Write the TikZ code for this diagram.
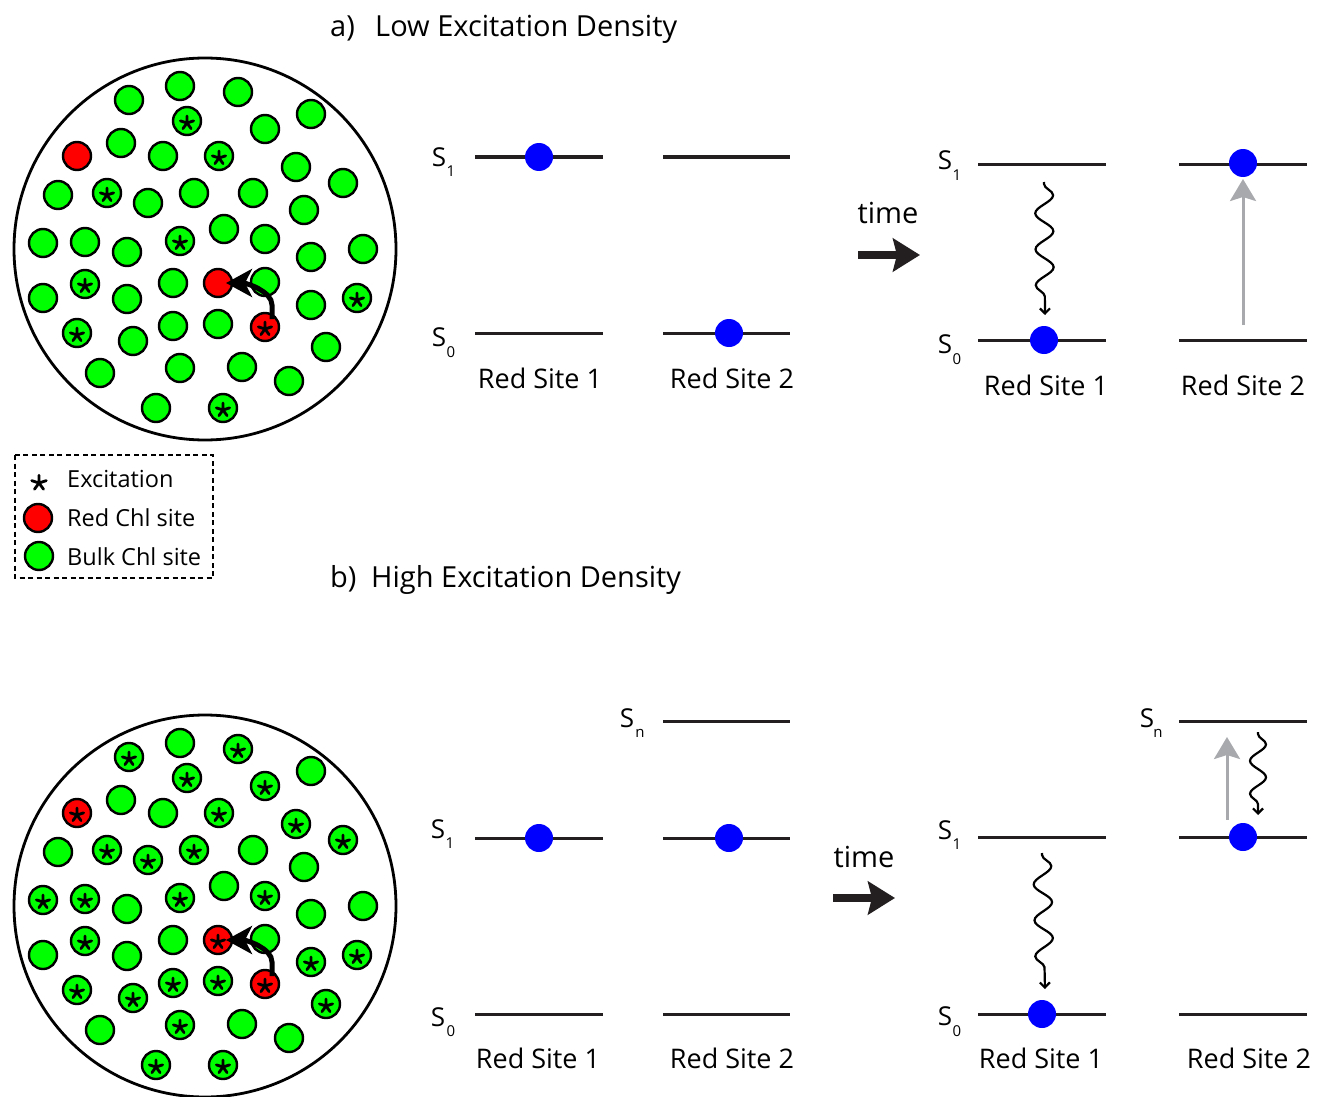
\documentclass[tikz,border=0pt]{standalone}
\usepackage{fontspec}
\setmainfont{Open Sans}
\usetikzlibrary{arrows.meta,decorations.pathmorphing,calc}
\definecolor{ink}{HTML}{231F20}
\definecolor{chlgreen}{HTML}{00FF00}
\definecolor{chlred}{HTML}{FF0000}
\definecolor{dotblue}{HTML}{0000FF}
\definecolor{arrowgray}{HTML}{A7A9AC}
\tikzset{
  bulk/.style={circle,draw=black,line width=2.4pt,fill=chlgreen,minimum size=28pt,inner sep=0pt},
  redchl/.style={bulk,fill=chlred},
  disk/.style={circle,draw=black,line width=2.8pt,minimum size=382pt,inner sep=0pt},
  ast/.pic={\draw[line width=2.8pt,line cap=round] foreach \ang in {90,18,162,234,306}{(0,0) -- (\ang:7pt)};},
  level/.style={draw=ink,line width=3pt},
  edot/.style={circle,fill=dotblue,minimum size=28pt,inner sep=0pt},
  hop/.style={draw=black,line width=5pt,-{Stealth[length=26pt,width=28pt,inset=7pt]}},
  timearrow/.style={draw=ink,line width=8pt,-{Stealth[length=27pt,width=33pt,inset=4pt]}},
  grayarrow/.style={draw=arrowgray,line width=3pt,-{Stealth[length=22pt,width=26pt,inset=4pt]}},
  wave/.style={draw=black,line width=2.2pt,decorate,decoration={snake,segment length=36pt,amplitude=9pt,pre length=2pt,post length=7pt},-{Straight Barb[length=5pt,width=10pt]}},
  lbl/.style={font=\fontsize{27}{32}\selectfont,inner sep=0pt,anchor=base},
  ttl/.style={font=\fontsize{29}{34}\selectfont,inner sep=0pt,anchor=base west},
  leg/.style={font=\fontsize{23.5}{28}\selectfont,inner sep=0pt,anchor=base west},
  slab/.style={font=\fontsize{26}{30}\selectfont,inner sep=0pt},
  ssub/.style={font=\fontsize{15}{18}\selectfont,inner sep=0pt},
}
\def\sites{1/129/100/bulk,2/180/86/bulk,3/238/92/bulk,4/187/121/bulk,5/311/114/bulk,6/265/129/bulk,
7/121/143/bulk,8/77/156/redchl,9/163/156/bulk,10/219/156/bulk,11/296/167/bulk,12/343/183/bulk,
13/58/195/bulk,14/107/193/bulk,15/148/203/bulk,16/194/193/bulk,17/253/193/bulk,18/304/210/bulk,
19/43/243/bulk,20/85/242/bulk,21/127/252/bulk,22/180/241/bulk,23/224/229/bulk,24/265/239/bulk,
25/311/257/bulk,26/363/249/bulk,27/43/298/bulk,28/85/284/bulk,29/127/299/bulk,30/173/283/bulk,
31/218/283/redchl,32/265/282/bulk,33/311/305/bulk,34/357/298/bulk,35/77/333/bulk,36/133/341/bulk,
37/173/326/bulk,38/218/324/bulk,39/265/327/redchl,40/326/347/bulk,41/100/373/bulk,42/180/368/bulk,
43/242/367/bulk,44/289/381/bulk,45/156/408/bulk,46/223/408/bulk}
\begin{document}
\begin{tikzpicture}[x=1pt,y=-1pt]
\useasboundingbox (0,0) rectangle (1317,1097);

% ---------------- titles
\node[ttl] (ta) at (330,37) {a)};
\node[ttl] (tatext) at (375,37) {Low Excitation Density};
\node[ttl] (tb) at (330,587) {b)};
\node[ttl] (tbtext) at (371,587) {High Excitation Density};

% ---------------- panel a disk
\node[disk] (diskA) at (205,249) {};
\foreach \n/\x/\y/\s in \sites {\node[\s] (a\n) at (\x,\y) {};}
\foreach \n in {4,10,14,22,28,34,35,39,46} {\pic at ([yshift=-2pt]a\n.center) {ast};}
\draw[hop] ([shift={(7,-8)}]a39.center) -- ++(0,-14) .. controls +(0,-14) and +(20,0) .. ([xshift=8pt]a31.center);

% ---------------- panel b disk
\node[disk] (diskB) at (205,906) {};
\begin{scope}[yshift=-657pt]
\foreach \n/\x/\y/\s in \sites {\node[\s] (b\n) at (\x,\y) {};}
\end{scope}
\foreach \n in {1,3,4,6,8,10,11,12,14,15,16,19,20,22,24,28,31,33,34,35,36,37,38,39,40,42,45,46} {\pic at ([yshift=-2pt]b\n.center) {ast};}
\draw[hop] ([shift={(7,-8)}]b39.center) -- ++(0,-14) .. controls +(0,-14) and +(20,0) .. ([xshift=8pt]b31.center);

% ---------------- legend
\draw[line width=2.4pt,dash pattern=on 5pt off 3.5pt] (15,455) rectangle (213,578);
\pic[scale=1.1] at (39,483) {ast};
\node[redchl] (legred) at (38,518) {};
\node[bulk] (leggreen) at (39,556) {};
\node[leg] (legexc) at (67,487) {Excitation};
\node[leg] (legredtxt) at (67,526) {Red Chl site};
\node[leg] (leggreentxt) at (67,565) {Bulk Chl site};

% ---------------- panel a, before
\draw[level] (475,157) -- (603,157);
\draw[level] (663,157) -- (790,157);
\draw[level] (475,333) -- (603,333);
\draw[level] (663,333) -- (790,333);
\node[edot] (ea1) at (539,157) {};
\node[edot] (ea2) at (729,333) {};
\node[slab] (aS1) at (439,157) {S};
\node[ssub] (aS1s) at (451,171) {1};
\node[slab] (aS0) at (439,337) {S};
\node[ssub] (aS0s) at (451,352) {0};
\node[lbl] (aRS1) at (540,388) {Red Site 1};
\node[lbl] (aRS2) at (732,388) {Red Site 2};

% time arrow a
\node[font=\fontsize{29}{34}\selectfont,inner sep=0pt,anchor=base] (timeA) at (888,223) {time};
\coordinate (tA1) at (858,255);
\coordinate (tA2) at (920,255);
\draw[timearrow] (tA1) -- (tA2);

% ---------------- panel a, after
\draw[level] (978,164) -- (1106,164);
\draw[level] (1179,164) -- (1307,164);
\draw[level] (978,340) -- (1106,340);
\draw[level] (1179,340) -- (1307,340);
\node[edot] (ea3) at (1044,340) {};
\node[edot] (ea4) at (1243,163) {};
\node[slab] (aS1r) at (945,160) {S};
\node[ssub] (aS1rs) at (957,175) {1};
\node[slab] (aS0r) at (945,344) {S};
\node[ssub] (aS0rs) at (957,359) {0};
\node[lbl] (aRS1r) at (1046,395) {Red Site 1};
\node[lbl] (aRS2r) at (1243,395) {Red Site 2};
\coordinate (wA1) at (1044,182);
\coordinate (wA2) at (1045,315);
\draw[wave] (wA1) -- (wA2);
\coordinate (gA1) at (1243,325);
\draw[grayarrow] (gA1) -- ([yshift=-16pt]ea4.center);

% ---------------- panel b, before
\draw[level] (663,721) -- (790,721);
\draw[level] (475,838) -- (603,838);
\draw[level] (663,838) -- (790,838);
\draw[level] (475,1014) -- (603,1014);
\draw[level] (663,1014) -- (790,1014);
\node[edot] (eb1) at (539,838) {};
\node[edot] (eb2) at (729,838) {};
\node[slab] (bSn) at (627,718) {S};
\node[ssub] (bSns) at (640,733) {n};
\node[slab] (bS1) at (438,829) {S};
\node[ssub] (bS1s) at (450,843) {1};
\node[slab] (bS0) at (438,1017) {S};
\node[ssub] (bS0s) at (451,1031) {0};
\node[lbl] (bRS1) at (538,1068) {Red Site 1};
\node[lbl] (bRS2) at (732,1068) {Red Site 2};

% time arrow b
\node[font=\fontsize{29}{34}\selectfont,inner sep=0pt,anchor=base] (timeB) at (864,867) {time};
\coordinate (tB1) at (833,898);
\coordinate (tB2) at (895,898);
\draw[timearrow] (tB1) -- (tB2);

% ---------------- panel b, after
\draw[level] (1179,721) -- (1307,721);
\draw[level] (978,837) -- (1106,837);
\draw[level] (1179,837) -- (1307,837);
\draw[level] (978,1014) -- (1106,1014);
\draw[level] (1179,1014) -- (1307,1014);
\node[edot] (eb3) at (1042,1014) {};
\node[edot] (eb4) at (1243,837) {};
\node[slab] (bSnr) at (1147,718) {S};
\node[ssub] (bSnrs) at (1158,733) {n};
\node[slab] (bS1r) at (945,830) {S};
\node[ssub] (bS1rs) at (957,844) {1};
\node[slab] (bS0r) at (945,1016) {S};
\node[ssub] (bS0rs) at (957,1031) {0};
\node[lbl] (bRS1r) at (1041,1068) {Red Site 1};
\node[lbl] (bRS2r) at (1249,1068) {Red Site 2};
\coordinate (wB1) at (1042,853);
\coordinate (wB2) at (1045,989);
\draw[wave] (wB1) -- (wB2);
\coordinate (wB3) at (1258,732);
\coordinate (wB4) at (1258,815);
\draw[wave,decoration={snake,segment length=33pt,amplitude=8pt,pre length=2pt,post length=6pt}] (wB3) -- (wB4);
\coordinate (gB1) at (1227,820);
\coordinate (gB2) at (1227,737);
\draw[grayarrow] (gB1) -- (gB2);
\end{tikzpicture}
\end{document}
